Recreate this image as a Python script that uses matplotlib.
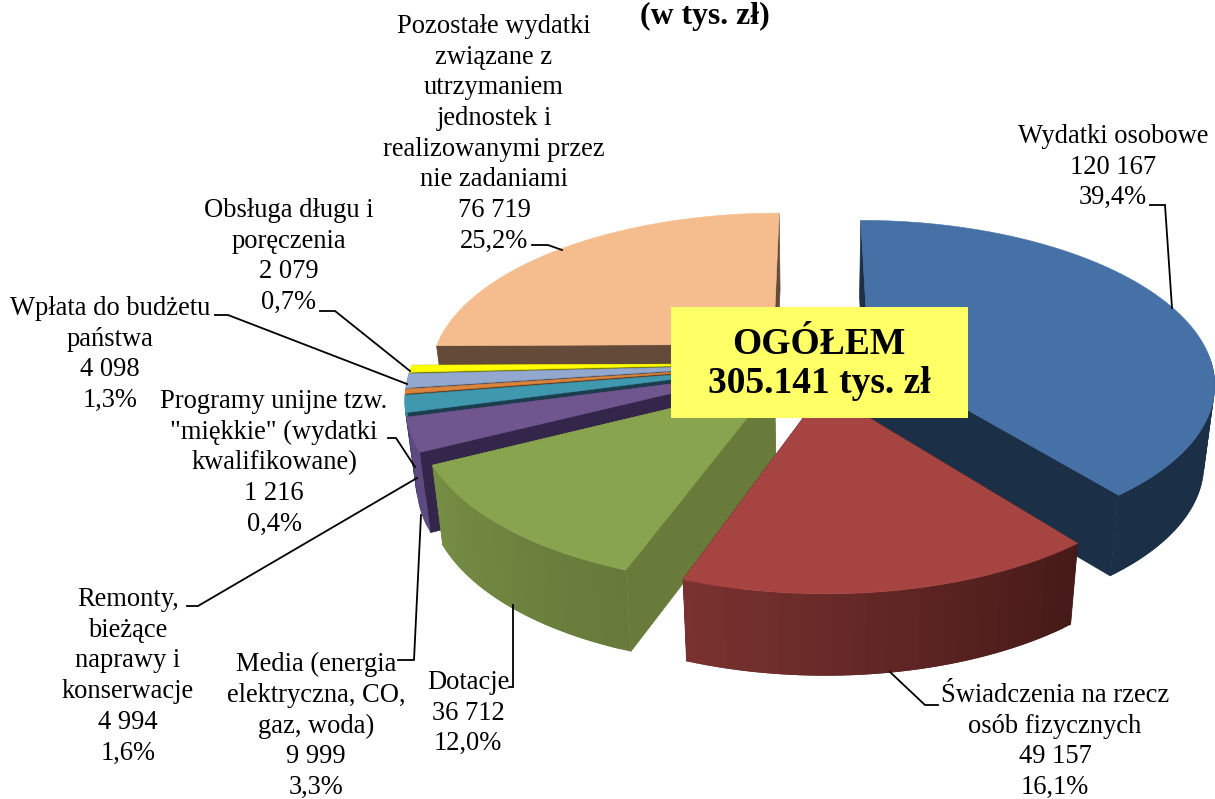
import numpy as np
import matplotlib
matplotlib.use("Agg")
import matplotlib.pyplot as plt
from matplotlib.patches import Polygon, Rectangle

# ---- data ----
values = [120167, 49157, 36712, 9999, 4994, 1216, 4098, 2079, 76719]
names = ["Wydatki osobowe", "Świadczenia na rzecz\nosób fizycznych", "Dotacje",
         "Media (energia\nelektryczna, CO,\ngaz, woda)",
         "Remonty,\nbieżące\nnaprawy i\nkonserwacje",
         "Programy unijne tzw.\n\"miękkie\" (wydatki\nkwalifikowane)",
         "Wpłata do budżetu\npaństwa", "Obsługa długu i\nporęczenia",
         "Pozostałe wydatki\nzwiązane z\nutrzymaniem\njednostek i\nrealizowanymi przez\nnie zadaniami"]
value_labels = ["120 167", "49 157", "36 712", "9 999", "4 994", "1 216", "4 098", "2 079", "76 719"]
pct_labels = ["39,4%", "16,1%", "12,0%", "3,3%", "1,6%", "0,4%", "1,3%", "0,7%", "25,2%"]
title = "(w tys. zł)"
box_lines = "OGÓŁEM\n305.141 tys. zł"

top_colors = ["#4571A6", "#A64441", "#88A44E", "#70568F", "#4098AE", "#DB843C", "#92A8CE", "#FFFF00", "#F5BD8D"]
face_colors = ["#1B2F47", "#451A18", "#697B3A", "#33264A", "#1A3E4B", "#6E421F", "#4A5568", "#808000", "#644A38"]
wall_start = ["#1B2F47", "#451A18", "#667A3A", "#5C4A80", "#3A7F92", "#B06A30", "#7A90B4", "#C0C000", "#C89A70"]
wall_end = ["#1B2F47", "#7A3230", "#768D44", "#5C4A80", "#3A7F92", "#B06A30", "#7A90B4", "#C0C000", "#C89A70"]

label_x = [1113, 1055, 468, 316, 128, 274, 110, 289, 494]
label_y = [135, 694, 681, 663, 598, 400, 307, 209, 25]
leaders = [
    [(1150, 205), (1165, 205), (1172, 308)],
    [(890, 672), (925, 705), (938, 705)],
    [(513, 605), (513, 687), (509, 687)],
    [(421, 515), (414, 660), (398, 660)],
    [(417, 478), (198, 606), (187, 606)],
    [(415, 467), (396, 438), (388, 438)],
    [(407, 384), (228, 315), (215, 315)],
    [(410, 371), (335, 311), (320, 311)],
    [(562, 250), (548, 245), (532, 245)],
]

# ---- projection of the exploded 3D pie ----
CX, CY, RX, RY, PERSP, EXPLODE, DEPTH, SHRINK = 814, 363, 343, 159, 0.1675, 0.17, 79, 0.973


def project(X, Y, bottom=False):
    s = 1.0 / (1.0 + PERSP * Y)
    if bottom:
        return CX + RX * X * s * SHRINK, CY - RY * Y * s * SHRINK + DEPTH * np.sqrt(s)
    return CX + RX * X * s, CY - RY * Y * s


def mix(c1, c2, t):
    a, b = np.array(matplotlib.colors.to_rgb(c1)), np.array(matplotlib.colors.to_rgb(c2))
    return tuple(a + (b - a) * t)


fig = plt.figure(figsize=(12.15, 7.99), dpi=100)
ax = fig.add_axes([0, 0, 1, 1])
ax.set_xlim(0, 1215)
ax.set_ylim(799, 0)
ax.axis("off")

frac = np.array(values, dtype=float) / sum(values)
ends = np.cumsum(frac) * 2 * np.pi
starts = ends - frac * 2 * np.pi
draw_order = [8, 0, 7, 6, 5, 4, 3, 2, 1]
z = 2
for i in draw_order:
    t0, t1 = starts[i], ends[i]
    mid = (t0 + t1) / 2
    ox, oy = EXPLODE * np.sin(mid), EXPLODE * np.cos(mid)
    th = np.linspace(t0, t1, max(int((t1 - t0) * 40), 6))
    X, Y = ox + np.sin(th), oy + np.cos(th)
    xt, yt = project(X, Y)
    xb, yb = project(X, Y, True)
    ax_t, ay_t = project(ox, oy)
    ax_b, ay_b = project(ox, oy, True)
    # radial faces
    for k in (0, -1):
        ax.add_patch(Polygon([(ax_t, ay_t), (xt[k], yt[k]), (xb[k], yb[k]), (ax_b, ay_b)],
                             closed=True, fc=face_colors[i], ec=face_colors[i], lw=0.5, zorder=z))
    z += 1
    # outer wall (only the part facing the viewer), overlapping strips for a smooth gradient
    n = len(th) - 1
    for k in range(n):
        if np.cos(th[k]) > -0.03 and np.cos(th[k + 1]) > -0.03:
            continue
        e = min(k + 2, n)
        col = mix(wall_start[i], wall_end[i], k / max(n - 1, 1))
        seg = list(range(k, e + 1))
        pts = [(xt[j], yt[j]) for j in seg] + [(xb[j], yb[j]) for j in seg[::-1]]
        ax.add_patch(Polygon(pts, closed=True, fc=col, ec="none", zorder=z))
        z += 0.001
    z = np.ceil(z)
    # top face
    ax.add_patch(Polygon(np.column_stack([np.r_[ax_t, xt], np.r_[ay_t, yt]]),
                         closed=True, fc=top_colors[i], ec=top_colors[i], lw=0.4, zorder=z))
    z += 1

FS = 19.1
LS = 1.30
font = "Liberation Serif"
for lx, ly, nm, v, p in zip(label_x, label_y, names, value_labels, pct_labels):
    ax.text(lx, ly - 11, f"{nm}\n{v}\n{p}", ha="center", va="top", family=font, fontsize=FS,
            linespacing=LS, color="black", zorder=z + 2)
for pts in leaders:
    xs, ys = zip(*pts)
    ax.plot(xs, ys, color="black", lw=1.3, zorder=z + 1, solid_joinstyle="miter")

ax.add_patch(Rectangle((671, 307), 297, 111, fc="#FFFF66", ec="none", zorder=z + 3))
ax.text(819, 364, box_lines, ha="center", va="center", family=font, fontsize=27, fontweight="bold",
        linespacing=1.18, zorder=z + 4)
ax.text(705, 16, title, ha="center", va="center", family=font, fontsize=22.9, fontweight="bold", zorder=z + 4)

fig.savefig("out.png", dpi=100, facecolor="white")
